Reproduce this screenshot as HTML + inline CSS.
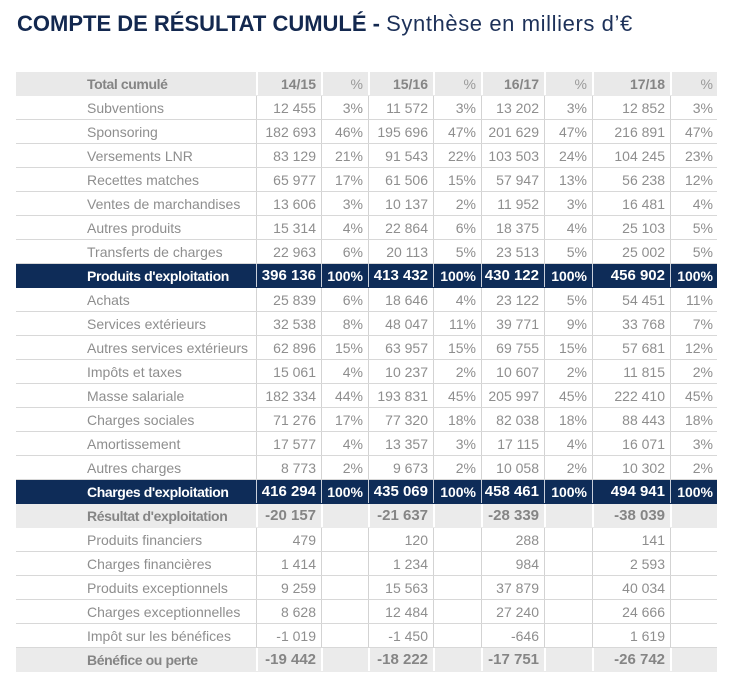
<!DOCTYPE html>
<html><head><meta charset="utf-8">
<style>
*{margin:0;padding:0;box-sizing:border-box}
body{width:731px;height:691px;background:#fff;position:relative;overflow:hidden;font-family:"Liberation Sans",sans-serif}
.title{position:absolute;left:17px;top:13px;font-size:22px;line-height:22px;color:#13284f;white-space:nowrap}
.title b{font-weight:bold;letter-spacing:0px}
.title span{font-weight:normal;letter-spacing:0.6px;color:#1d3159}
.tbl{position:absolute;left:16px;top:72px;width:701px}
.r{display:flex;height:24px;border-bottom:1px solid #d8d8d8;color:#8e8e8e;font-size:14px}
.r>div{height:100%;line-height:24px;text-align:right;padding-right:5px;white-space:nowrap;border-left:1px solid #d3d3d3}
.r>div:nth-child(1){width:240px;text-align:left;padding-left:71px;border-left:none}
.r>div:nth-child(2){width:65px}
.r>div:nth-child(3){width:47px}
.r>div:nth-child(4){width:65px}
.r>div:nth-child(5){width:48px}
.r>div:nth-child(6){width:63px}
.r>div:nth-child(7){width:48px}
.r>div:nth-child(8){width:78px}
.r>div:nth-child(9){width:47px;padding-right:4px}
.h{background:#e9e9e9;border-bottom:1px solid #e9e9e9;color:#858585}
.h>div{border-left:2px solid #fff !important;font-weight:bold}
.h>div:nth-child(1){border-left:none !important;letter-spacing:-0.4px}
.h>div.p{font-weight:normal;color:#9a9a9a}
.d{background:#0e2c58;color:#fff;border-bottom:1px solid #0e2c58}
.d>div{border-left:1px solid #c9d0db;font-weight:bold;font-size:15px}
.d>div:nth-child(1){letter-spacing:-0.4px;font-size:14px}
.d>div.p{font-size:14px}
.g{background:#ebebeb;border-bottom:1px solid #ebebeb;color:#858585}
.g>div{border-left:2px solid #fff !important;font-weight:bold;font-size:15px}
.g>div:nth-child(1){border-left:none !important;letter-spacing:-0.4px;font-size:14px}
</style></head><body>
<div class="title"><b>COMPTE DE RÉSULTAT CUMULÉ -</b> <span>Synthèse en milliers d’€</span></div>
<div class="tbl">
<div class="r h"><div>Total cumulé</div><div>14/15</div><div class="p">%</div><div>15/16</div><div class="p">%</div><div>16/17</div><div class="p">%</div><div>17/18</div><div class="p">%</div></div>
<div class="r"><div>Subventions</div><div>12 455</div><div>3%</div><div>11 572</div><div>3%</div><div>13 202</div><div>3%</div><div>12 852</div><div>3%</div></div>
<div class="r"><div>Sponsoring</div><div>182 693</div><div>46%</div><div>195 696</div><div>47%</div><div>201 629</div><div>47%</div><div>216 891</div><div>47%</div></div>
<div class="r"><div>Versements LNR</div><div>83 129</div><div>21%</div><div>91 543</div><div>22%</div><div>103 503</div><div>24%</div><div>104 245</div><div>23%</div></div>
<div class="r"><div>Recettes matches</div><div>65 977</div><div>17%</div><div>61 506</div><div>15%</div><div>57 947</div><div>13%</div><div>56 238</div><div>12%</div></div>
<div class="r"><div>Ventes de marchandises</div><div>13 606</div><div>3%</div><div>10 137</div><div>2%</div><div>11 952</div><div>3%</div><div>16 481</div><div>4%</div></div>
<div class="r"><div>Autres produits</div><div>15 314</div><div>4%</div><div>22 864</div><div>6%</div><div>18 375</div><div>4%</div><div>25 103</div><div>5%</div></div>
<div class="r"><div>Transferts de charges</div><div>22 963</div><div>6%</div><div>20 113</div><div>5%</div><div>23 513</div><div>5%</div><div>25 002</div><div>5%</div></div>
<div class="r d"><div>Produits d'exploitation</div><div>396 136</div><div class="p">100%</div><div>413 432</div><div class="p">100%</div><div>430 122</div><div class="p">100%</div><div>456 902</div><div class="p">100%</div></div>
<div class="r"><div>Achats</div><div>25 839</div><div>6%</div><div>18 646</div><div>4%</div><div>23 122</div><div>5%</div><div>54 451</div><div>11%</div></div>
<div class="r"><div>Services extérieurs</div><div>32 538</div><div>8%</div><div>48 047</div><div>11%</div><div>39 771</div><div>9%</div><div>33 768</div><div>7%</div></div>
<div class="r"><div>Autres services extérieurs</div><div>62 896</div><div>15%</div><div>63 957</div><div>15%</div><div>69 755</div><div>15%</div><div>57 681</div><div>12%</div></div>
<div class="r"><div>Impôts et taxes</div><div>15 061</div><div>4%</div><div>10 237</div><div>2%</div><div>10 607</div><div>2%</div><div>11 815</div><div>2%</div></div>
<div class="r"><div>Masse salariale</div><div>182 334</div><div>44%</div><div>193 831</div><div>45%</div><div>205 997</div><div>45%</div><div>222 410</div><div>45%</div></div>
<div class="r"><div>Charges sociales</div><div>71 276</div><div>17%</div><div>77 320</div><div>18%</div><div>82 038</div><div>18%</div><div>88 443</div><div>18%</div></div>
<div class="r"><div>Amortissement</div><div>17 577</div><div>4%</div><div>13 357</div><div>3%</div><div>17 115</div><div>4%</div><div>16 071</div><div>3%</div></div>
<div class="r"><div>Autres charges</div><div>8 773</div><div>2%</div><div>9 673</div><div>2%</div><div>10 058</div><div>2%</div><div>10 302</div><div>2%</div></div>
<div class="r d"><div>Charges d'exploitation</div><div>416 294</div><div class="p">100%</div><div>435 069</div><div class="p">100%</div><div>458 461</div><div class="p">100%</div><div>494 941</div><div class="p">100%</div></div>
<div class="r g"><div>Résultat d'exploitation</div><div>-20 157</div><div></div><div>-21 637</div><div></div><div>-28 339</div><div></div><div>-38 039</div><div></div></div>
<div class="r"><div>Produits financiers</div><div>479</div><div></div><div>120</div><div></div><div>288</div><div></div><div>141</div><div></div></div>
<div class="r"><div>Charges financières</div><div>1 414</div><div></div><div>1 234</div><div></div><div>984</div><div></div><div>2 593</div><div></div></div>
<div class="r"><div>Produits exceptionnels</div><div>9 259</div><div></div><div>15 563</div><div></div><div>37 879</div><div></div><div>40 034</div><div></div></div>
<div class="r"><div>Charges exceptionnelles</div><div>8 628</div><div></div><div>12 484</div><div></div><div>27 240</div><div></div><div>24 666</div><div></div></div>
<div class="r"><div>Impôt sur les bénéfices</div><div>-1 019</div><div></div><div>-1 450</div><div></div><div>-646</div><div></div><div>1 619</div><div></div></div>
<div class="r g"><div>Bénéfice ou perte</div><div>-19 442</div><div></div><div>-18 222</div><div></div><div>-17 751</div><div></div><div>-26 742</div><div></div></div>
</div>
</body></html>
